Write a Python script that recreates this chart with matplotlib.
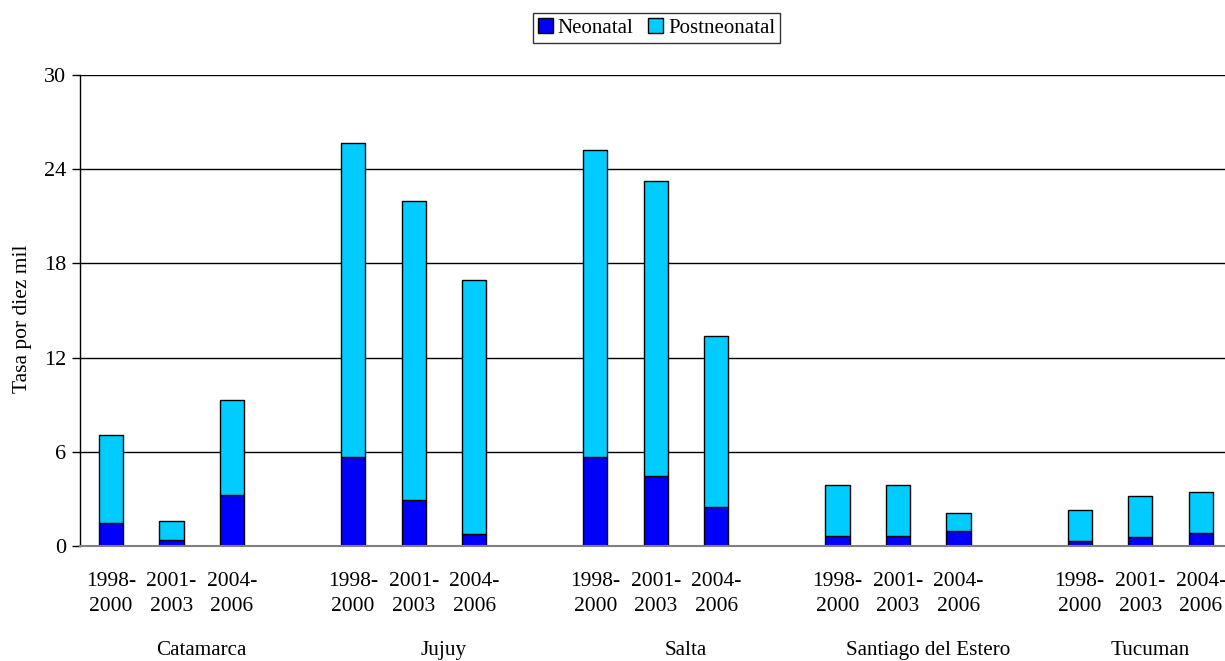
import matplotlib.pyplot as plt
import numpy as np

plt.rcParams['font.family'] = ['Liberation Serif', 'DejaVu Serif']

provinces = ['Catamarca', 'Jujuy', 'Salta', 'Santiago del Estero', 'Tucuman']
periods = ['1998-\n2000', '2001-\n2003', '2004-\n2006']

# total and neonatal rates per province, one value per period
neonatal = [
    [1.45, 0.4, 3.25],   # Catamarca
    [5.65, 2.9, 0.75],   # Jujuy
    [5.65, 4.45, 2.5],   # Salta
    [0.62, 0.64, 0.95],  # Santiago del Estero
    [0.3, 0.57, 0.82],   # Tucuman
]
total = [
    [7.05, 1.6, 9.3],
    [25.65, 22.0, 16.95],
    [25.25, 23.25, 13.4],
    [3.9, 3.9, 2.1],
    [2.3, 3.2, 3.45],
]

neo = np.array(neonatal).ravel()
post = np.array(total).ravel() - neo

# 3 bars per group, one empty slot between groups
x = np.array([g * 4 + i for g in range(5) for i in range(3)])

fig = plt.figure(figsize=(12.25, 6.61), dpi=100)
ax = fig.add_axes([0.0653, 0.174, 0.9347, 0.7126])

ax.set_axisbelow(True)
ax.yaxis.grid(True, color='black', linewidth=1)
b1 = ax.bar(x, neo, width=0.4, color='#0000FF', edgecolor='black', linewidth=1, label='Neonatal')
b2 = ax.bar(x, post, bottom=neo, width=0.4, color='#00CCFF', edgecolor='black', linewidth=1,
            label='Postneonatal')

ax.set_ylim(0, 30)
ax.set_yticks(np.arange(0, 31, 6))
ax.set_xlim(-0.51, 18.4)
ax.set_xticks(x)
ax.set_xticklabels(periods * 5, fontsize=15.5, linespacing=1.4)
ax.tick_params(axis='x', length=0, pad=19)
ax.tick_params(axis='y', labelsize=16, length=6, width=1, direction='out', pad=4)

for s in ['top', 'right']:
    ax.spines[s].set_visible(False)
ax.spines['bottom'].set_color('#808080')
ax.spines['bottom'].set_linewidth(1.5)
ax.spines['left'].set_linewidth(1)

ax.set_ylabel('Tasa por diez mil', fontsize=15.5)
ax.yaxis.set_label_coords(-0.042, 0.482)

# province labels under the groups
label_x = [1.49, 5.5, 9.5, 13.5, 17.17]
for name, lx in zip(provinces, label_x):
    ax.text(lx, -0.221, name, transform=ax.get_xaxis_transform(), ha='center', va='center',
            fontsize=15.2)

leg = fig.legend(handles=[b1, b2], loc='center', bbox_to_anchor=(0.536, 0.958), ncol=2,
                 fontsize=15, frameon=True, fancybox=False, edgecolor='black',
                 handlelength=0.7, handleheight=0.7, handletextpad=0.25, columnspacing=0.7,
                 borderpad=0.25, borderaxespad=0)
leg.get_frame().set_linewidth(1)

fig.savefig('out.png', dpi=100)
